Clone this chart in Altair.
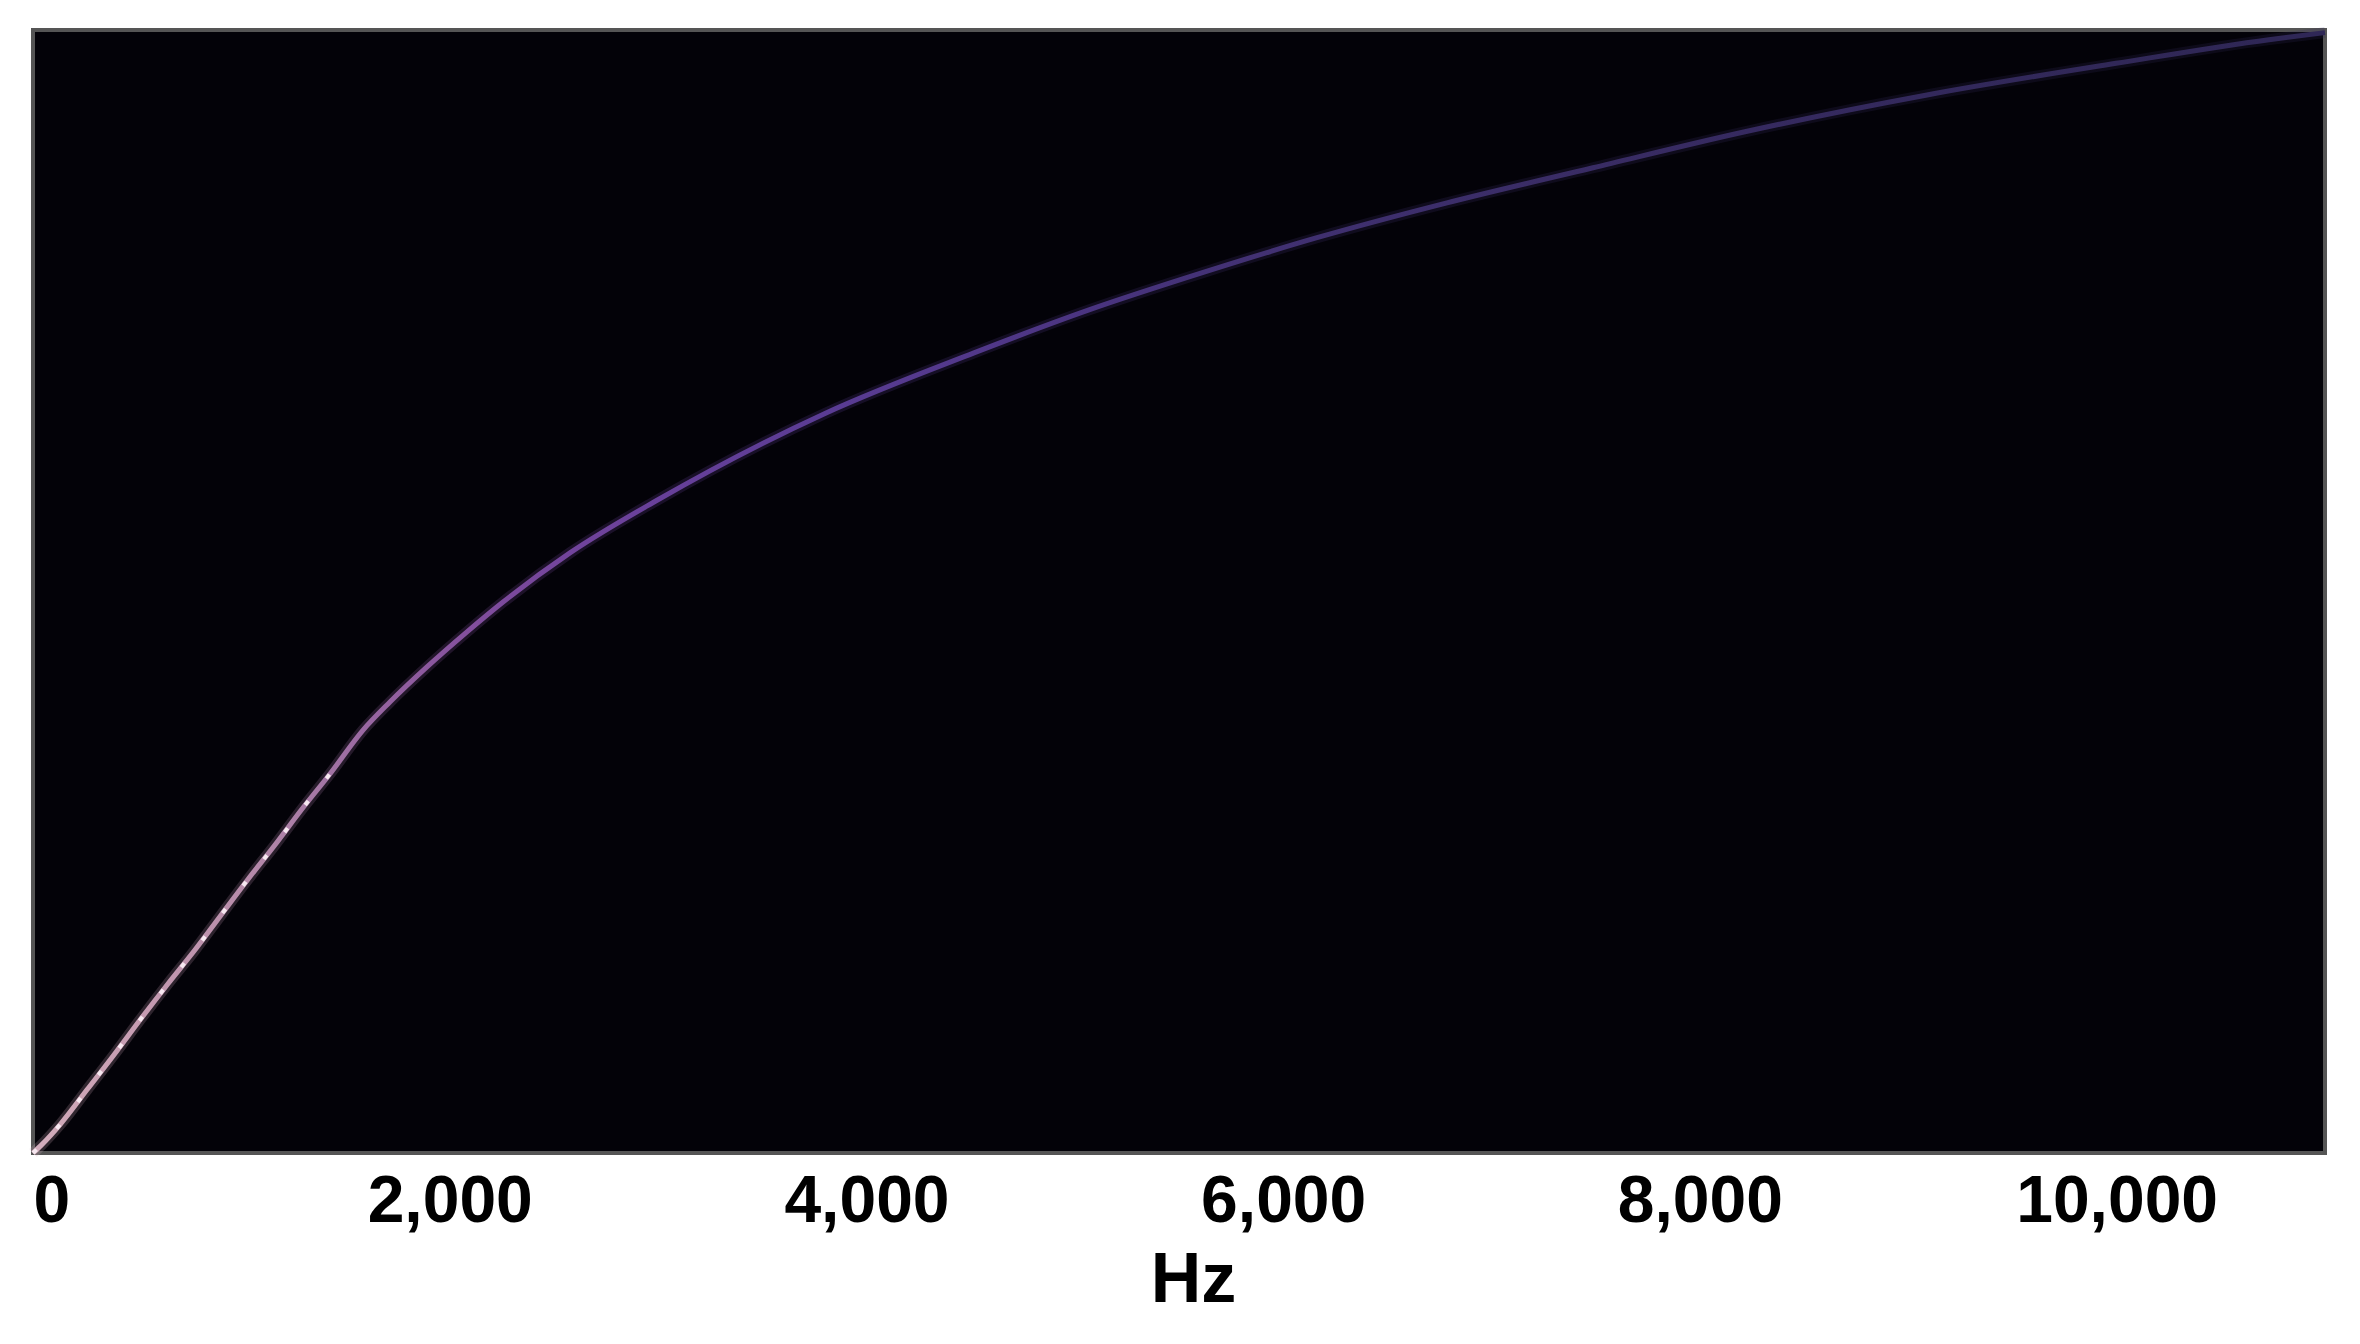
import altair as alt
import pandas as pd

# Curve: frequency (Hz) vs filter index (0-128, bottom to top)
hz = [0, 40, 132, 259, 389, 518, 648, 776, 902, 1032, 1161, 1291, 1425, 1584, 1713,
      1891, 2083, 2256, 2577, 2995, 3801, 4516, 5068, 5620, 6158, 6786, 7487,
      8216, 9090, 9997, 10731, 11000]
mel = [0, 0.9, 3.3, 7.2, 11.2, 15.3, 19.3, 23.1, 27.1, 31.2, 35.1, 39.2, 43.2, 48.2,
       51.4, 55.4, 59.4, 62.8, 68.4, 74.4, 84.3, 91.2, 96.1, 100.4, 104.3, 108.3,
       112.3, 116.4, 120.6, 124.2, 126.9, 127.7]
# colour of the curve at each point
pt_colors = ["#d2acbc", "#d2acbc", "#cfa8b8", "#cca4b6", "#c9a0b4", "#c69cb2",
             "#c298b0", "#bf94ae", "#bb90ac", "#b68aaa", "#b084a8", "#a97ca6",
             "#a274a4", "#9a68a2", "#9462a0", "#8c589e", "#84509e", "#7c4a9c",
             "#72449c", "#68409a", "#5a3c94", "#52388a", "#4a3480",
             "#443276", "#403070", "#3c2e6a", "#392c64", "#362a60", "#33295c",
             "#312858", "#2f2756", "#2f2756"]
tick_values = [0, 2000, 4000, 6000, 8000, 10000]
X_MAX = 11000

pts = pd.DataFrame({"hz": hz, "mel": mel})
low = pts[pts["hz"] <= 1425]


def gradient():
    return alt.Gradient(
        gradient="linear", x1=0, x2=1, y1=0, y2=0,
        stops=[alt.GradientStop(offset=h / X_MAX, color=c)
               for h, c in zip(hz, pt_colors)],
    )


xs = alt.Scale(domain=[0, X_MAX], nice=False, zero=False)
ys = alt.Scale(domain=[0, 128], nice=False, zero=False)

xaxis = alt.Axis(values=tick_values, format=",d", title="Hz", grid=False,
                 ticks=False, domain=False, labelFont="Liberation Sans",
                 labelFontWeight="bold", labelFontSize=66, labelColor="#000000",
                 labelPadding=16, labelFlush=True, labelLimit=0,
                 titleFont="Liberation Sans", titleFontWeight="bold",
                 titleFontSize=70, titleColor="#000000", titlePadding=12,
                 titleX=1160, titleAlign="center")

glow = alt.Chart(pts).mark_line(strokeWidth=11, opacity=0.22, interpolate="monotone",
                                color=gradient()).encode(
    x=alt.X("hz:Q", scale=xs, axis=xaxis),
    y=alt.Y("mel:Q", scale=ys, axis=None),
)
core = alt.Chart(pts).mark_line(strokeWidth=5, interpolate="monotone",
                                color=gradient()).encode(
    x=alt.X("hz:Q", scale=xs),
    y=alt.Y("mel:Q", scale=ys),
)
dots = alt.Chart(low).mark_line(color="#f6e8f0", strokeWidth=4, interpolate="monotone",
                                strokeDash=[5, 29]).encode(
    x=alt.X("hz:Q", scale=xs),
    y=alt.Y("mel:Q", scale=ys),
)

chart = alt.layer(glow, core, dots).properties(
    width=2292, height=1123,
    autosize=alt.AutoSizeParams(type="none"),
    padding={"left": 25, "top": 22, "right": 20, "bottom": 180},
    background="#ffffff",
).configure_view(
    fill="#030208", stroke="#555555", strokeWidth=4,
)

chart.save("out.html", embed_options={"renderer": "svg", "actions": False})
